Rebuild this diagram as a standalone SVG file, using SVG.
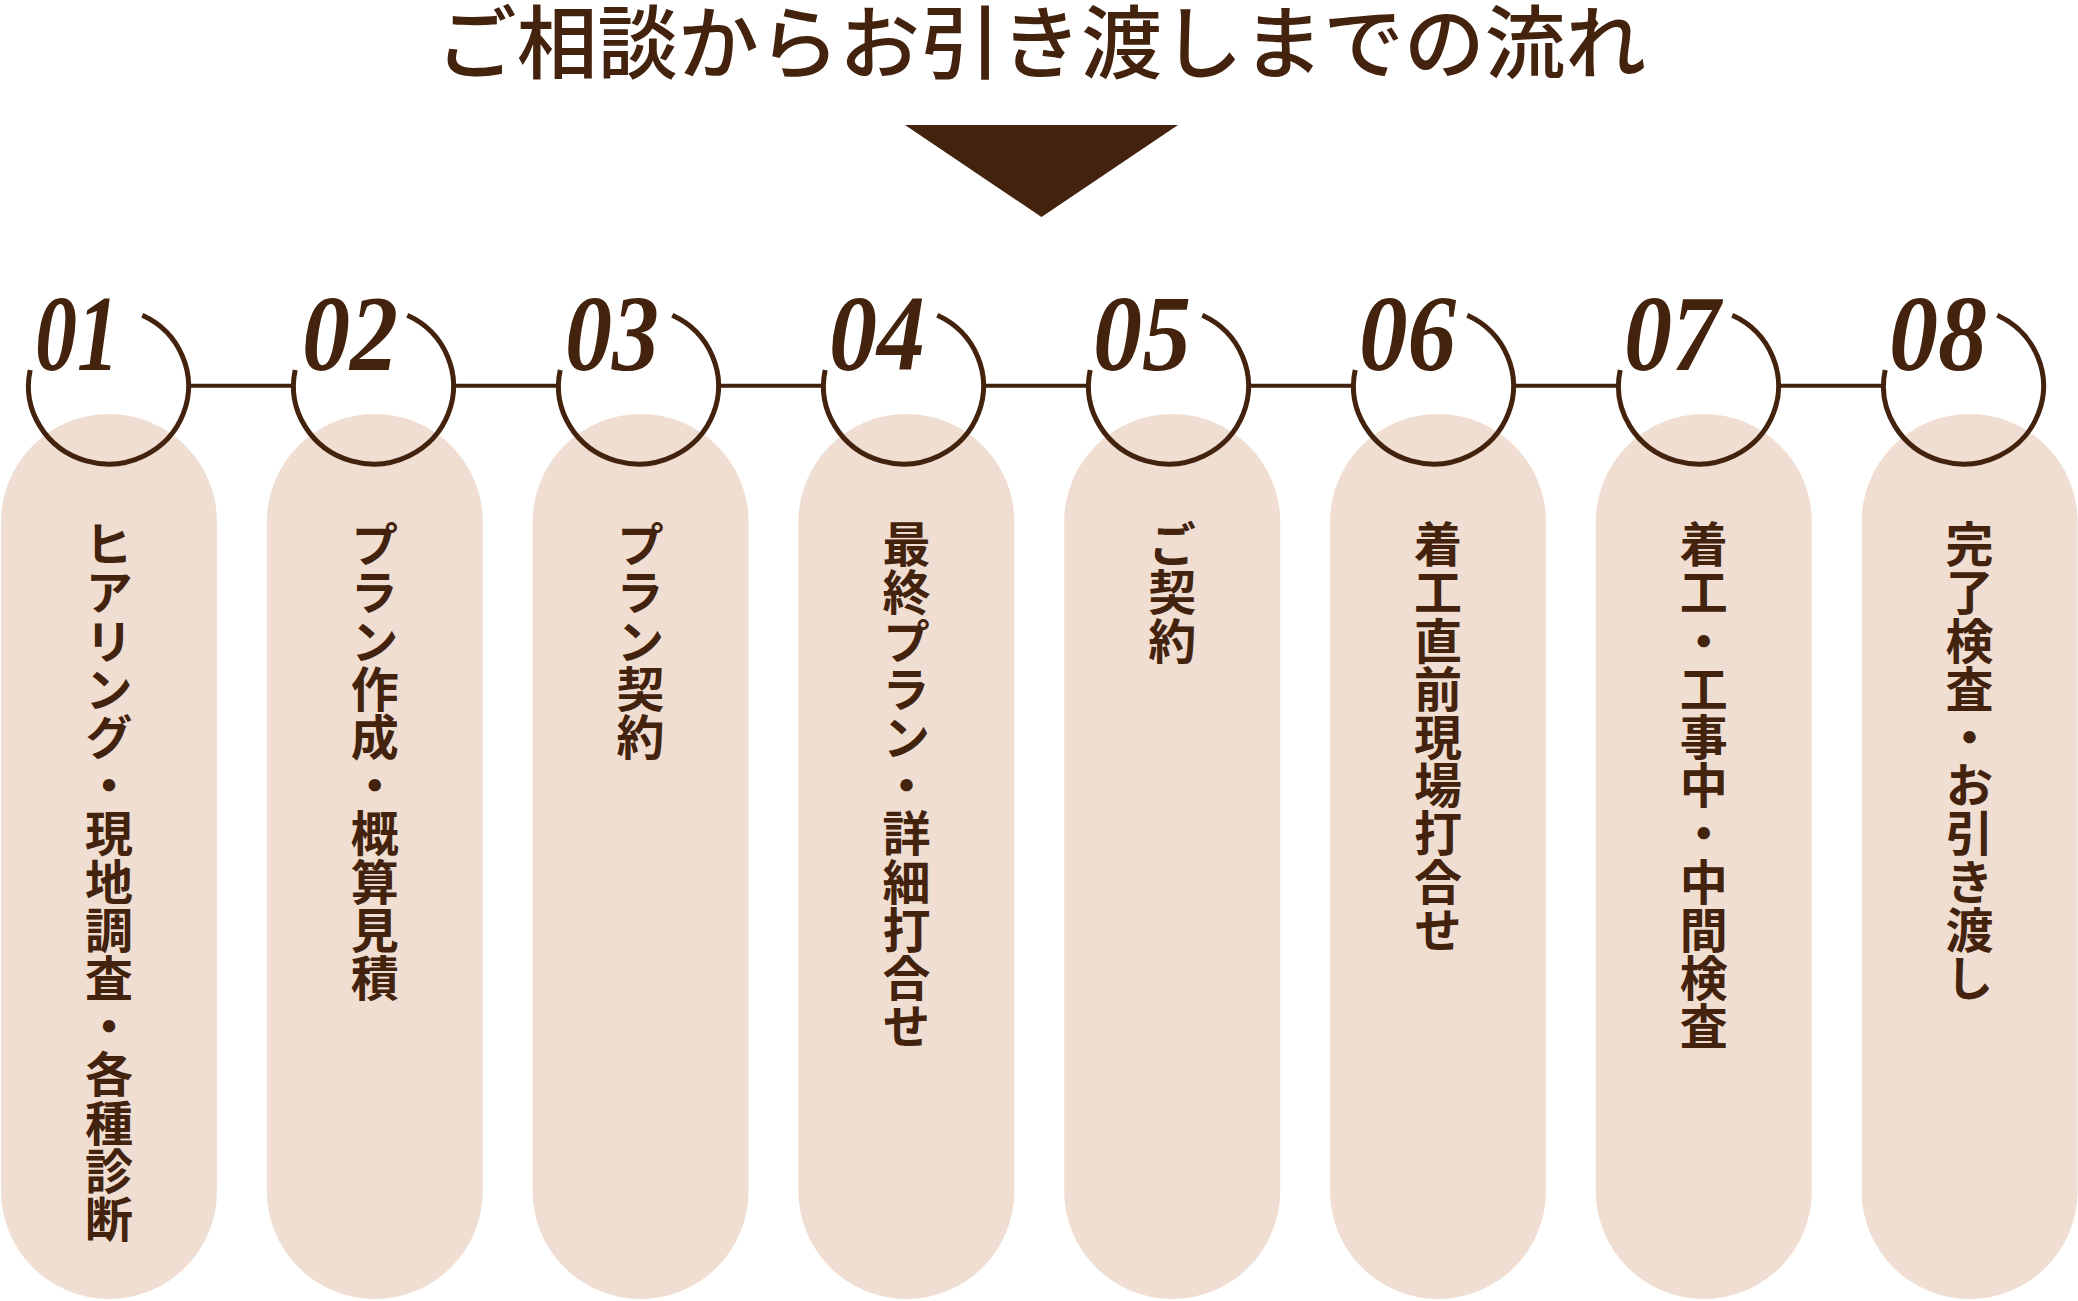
<svg xmlns="http://www.w3.org/2000/svg" xmlns:xlink="http://www.w3.org/1999/xlink" width="2078" height="1301" viewBox="0 0 2078 1301">
<style>
.pill{fill:#EFDED1}
.ring{fill:none;stroke:#43230D;stroke-width:5}
.conn{stroke:#43230D;stroke-width:4;fill:none}
.num{font-family:"Liberation Serif","DejaVu Serif",serif;font-style:italic;font-weight:bold;font-size:108px;fill:#43230D}
.lbl{font-family:"Noto Sans CJK JP","Noto Sans CJK SC",sans-serif;font-weight:700;font-size:48px;fill:#43230D;writing-mode:vertical-rl;letter-spacing:0.2px}
.title{font-family:"Noto Sans CJK JP","Noto Sans CJK SC",sans-serif;font-weight:500;font-size:80px;fill:#43230D}
</style>
<defs>
<path id="arc" d="M 33.8 -70.7 A 80 78 0 1 1 -78.3 -16"/>
</defs>
<rect width="2078" height="1301" fill="#FFFFFF"/>
<g id="title">
<text class="title" x="436" y="72" textLength="1210" lengthAdjust="spacingAndGlyphs">ご相談からお引き渡しまでの流れ</text>
<polygon points="905,125 1178,125 1041.5,217" fill="#43230D"/>
</g>
<g id="connectors">
<line class="conn" x1="188.5" y1="385.8" x2="293.5" y2="385.8"/>
<line class="conn" x1="453.5" y1="385.8" x2="558.5" y2="385.8"/>
<line class="conn" x1="718.5" y1="385.8" x2="823.5" y2="385.8"/>
<line class="conn" x1="983.5" y1="385.8" x2="1088.5" y2="385.8"/>
<line class="conn" x1="1248.5" y1="385.8" x2="1353.5" y2="385.8"/>
<line class="conn" x1="1513.5" y1="385.8" x2="1618.5" y2="385.8"/>
<line class="conn" x1="1778.5" y1="385.8" x2="1883.5" y2="385.8"/>
</g>
<g id="step01">
<rect class="pill" x="1" y="414" width="216" height="885" rx="108"/>
<use xlink:href="#arc" href="#arc" class="ring" transform="translate(108.5,386)"/>
<text class="num" x="35" y="370" textLength="84" lengthAdjust="spacingAndGlyphs">01</text>
<text class="lbl" x="109" y="520">ヒアリング・現地調査・各種診断</text>
</g>
<g id="step02">
<rect class="pill" x="266.8" y="414" width="216" height="885" rx="108"/>
<use xlink:href="#arc" href="#arc" class="ring" transform="translate(373.5,386)"/>
<text class="num" x="302" y="370" textLength="96" lengthAdjust="spacingAndGlyphs">02</text>
<text class="lbl" x="374.8" y="520">プラン作成・概算見積</text>
</g>
<g id="step03">
<rect class="pill" x="532.6" y="414" width="216" height="885" rx="108"/>
<use xlink:href="#arc" href="#arc" class="ring" transform="translate(638.5,386)"/>
<text class="num" x="565" y="370" textLength="94" lengthAdjust="spacingAndGlyphs">03</text>
<text class="lbl" x="640.6" y="520">プラン契約</text>
</g>
<g id="step04">
<rect class="pill" x="798.4" y="414" width="216" height="885" rx="108"/>
<use xlink:href="#arc" href="#arc" class="ring" transform="translate(903.5,386)"/>
<text class="num" x="829" y="370" textLength="96" lengthAdjust="spacingAndGlyphs">04</text>
<text class="lbl" x="906.4" y="520">最終プラン・詳細打合せ</text>
</g>
<g id="step05">
<rect class="pill" x="1064.2" y="414" width="216" height="885" rx="108"/>
<use xlink:href="#arc" href="#arc" class="ring" transform="translate(1168.5,386)"/>
<text class="num" x="1093" y="370" textLength="98" lengthAdjust="spacingAndGlyphs">05</text>
<text class="lbl" x="1172.2" y="520">ご契約</text>
</g>
<g id="step06">
<rect class="pill" x="1330" y="414" width="216" height="885" rx="108"/>
<use xlink:href="#arc" href="#arc" class="ring" transform="translate(1433.5,386)"/>
<text class="num" x="1359" y="370" textLength="97" lengthAdjust="spacingAndGlyphs">06</text>
<text class="lbl" x="1438" y="520">着工直前現場打合せ</text>
</g>
<g id="step07">
<rect class="pill" x="1595.8" y="414" width="216" height="885" rx="108"/>
<use xlink:href="#arc" href="#arc" class="ring" transform="translate(1698.5,386)"/>
<text class="num" x="1624" y="370" textLength="96" lengthAdjust="spacingAndGlyphs">07</text>
<text class="lbl" x="1703.8" y="520">着工・工事中・中間検査</text>
</g>
<g id="step08">
<rect class="pill" x="1861.6" y="414" width="216" height="885" rx="108"/>
<use xlink:href="#arc" href="#arc" class="ring" transform="translate(1963.5,386)"/>
<text class="num" x="1889" y="370" textLength="98" lengthAdjust="spacingAndGlyphs">08</text>
<text class="lbl" x="1969.6" y="520">完了検査・お引き渡し</text>
</g>
</svg>
